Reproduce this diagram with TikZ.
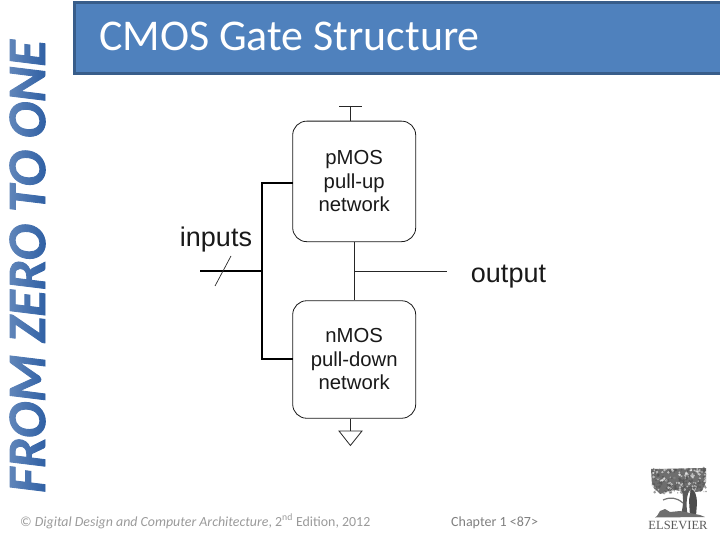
\documentclass[tikz,border=0pt]{standalone}
\usepackage{fontspec}
\setmainfont{Liberation Sans}
\newfontfamily\carl{Carlito}
\newfontfamily\carlheavy[FakeBold=1.6]{Carlito}
\usetikzlibrary{fadings}
\definecolor{hdrfill}{HTML}{4F81BD}
\definecolor{hdrline}{HTML}{385D8A}
\definecolor{sidetext}{HTML}{2A5CA2}
\definecolor{foot}{HTML}{9A9A9A}
\definecolor{chap}{HTML}{7F7F7F}
\definecolor{logogray}{HTML}{6E6E6E}
\tikzset{
  thinwire/.style={line width=0.8pt,black!85},
  bus/.style={line width=2.4pt,black,line join=miter},
  netbox/.style={draw=black!90,line width=0.8pt,rounded corners=14pt,align=center,inner sep=0pt,
    font=\fontsize{20.3}{23.5}\selectfont,text=black!90},
  biglabel/.style={font=\fontsize{27}{30}\selectfont,text=black!90,inner sep=0pt},
  headerbar/.style={fill=hdrfill,draw=hdrline,line width=3pt},
}
\begin{document}
\begin{tikzpicture}[x=1pt,y=-1pt]
\useasboundingbox (0,0) rectangle (720,540);
% side title
\node[rotate=90,text=sidetext,inner sep=0pt,font=\carlheavy\bfseries\itshape\fontsize{54}{54}\selectfont] (side) at (27.5,266.5) {FROM ZERO TO ONE};
\fill[white,opacity=.28,path fading=east] (6,30) rectangle (50,500);
% header
\node[headerbar,minimum width=649pt,minimum height=71pt,inner sep=0pt,anchor=north west] (hdr) at (73,1) {};
\node[anchor=base west,text=white,inner sep=0pt,font=\carl\fontsize{43.9}{44}\selectfont] (title) at (99,50.5) {CMOS Gate Structure};
% network boxes
\node[netbox,minimum width=123pt,minimum height=120.5pt] (pmos) at (354.2,181.4) {pMOS\\pull-up\\network};
\node[netbox,minimum width=123pt,minimum height=117.5pt] (nmos) at (354.2,359.5) {nMOS\\pull-down\\network};
% labels
\node[biglabel] (inputs) at (216,240) {inputs};
\node[biglabel] (output) at (508.5,277) {output};
% wires
\coordinate (mid) at (354.2,271);
\coordinate (outend) at (447,271);
\coordinate (inleft) at (200,271);
\coordinate (busj) at (262,271);
\coordinate (pport) at (292.7,183.3);
\coordinate (nport) at (292.7,358.8);
\coordinate (s1) at (231,256);
\coordinate (s2) at (215,286);
\coordinate (vdd) at (350.4,106);
\coordinate (vddl) at (339,106);
\coordinate (vddr) at (362,106);
\coordinate (gnd) at (350.4,431);
\coordinate (gl) at (339,431);
\coordinate (gr) at (362,431);
\coordinate (gt) at (350.4,445.5);
\draw[thinwire] (pmos.south) -- (nmos.north);
\draw[thinwire] (mid) -- (outend);
\draw[bus] (pport) -| (busj) |- (nport);
\draw[bus] (inleft) -- (busj);
\draw[thinwire,line width=.7pt] (s1) -- (s2);
\draw[thinwire] (vdd) -- (vdd |- pmos.north);
\draw[thinwire] (vddl) -- (vddr);
\draw[thinwire] (gnd) -- (gnd |- nmos.south);
\draw[thinwire,line join=miter] (gl) -- (gr) -- (gt) -- cycle;
% footer
\node[anchor=base west,text=foot,inner sep=0pt,font=\carl\fontsize{13.9}{14}\selectfont] (copy) at (20,526) {© \textit{Digital Design and Computer Architecture}, 2\textsuperscript{nd} Edition, 2012};
\node[anchor=base west,text=chap,inner sep=0pt,font=\carl\fontsize{14}{14}\selectfont] (chapter) at (451,526) {Chapter 1 <87>};
% publisher mark
\fill[logogray] (651,469) -- (706,468) -- (706,482) -- (702,491) -- (690,493) -- (675,490) -- (660,494) -- (652,486) -- cycle;
\pgfmathsetseed{87}
\foreach \i in {1,...,260}{
  \pgfmathsetmacro{\xa}{651+55*rnd}
  \pgfmathsetmacro{\ya}{468+25*rnd}
  \pgfmathsetmacro{\ra}{0.6+1.0*rnd}
  \pgfmathparse{rnd<.4?"white":"black!70"}
  \edef\cc{\pgfmathresult}
  \fill[\cc,opacity=.55] (\xa,\ya) circle (\ra pt);
}
\fill[black!65] (682,491) .. controls (684,500) and (683,510) .. (680,516) -- (688,516) .. controls (686,508) and (686,498) .. (689,491) -- cycle;
\fill[black!70] (691,489) .. controls (695,490) and (697,496) .. (697,503) -- (696,516) -- (690,516) -- (689,500) -- cycle;
\fill[logogray] (657,516) -- (660,511) -- (665,509) -- (670,512) -- (680,511) -- (700,515) -- (705,517) -- (655,517.5) -- cycle;
\draw[black!55,line width=1.2pt] (663,500) .. controls (670,497) and (676,497) .. (683,503);
\node[anchor=base,text=black!65,inner sep=0pt,font=\fontspec{Liberation Serif}\fontsize{12.5}{12.5}\selectfont] (elsevier) at (678,529) {ELSEVIER};
\end{tikzpicture}
\end{document}
